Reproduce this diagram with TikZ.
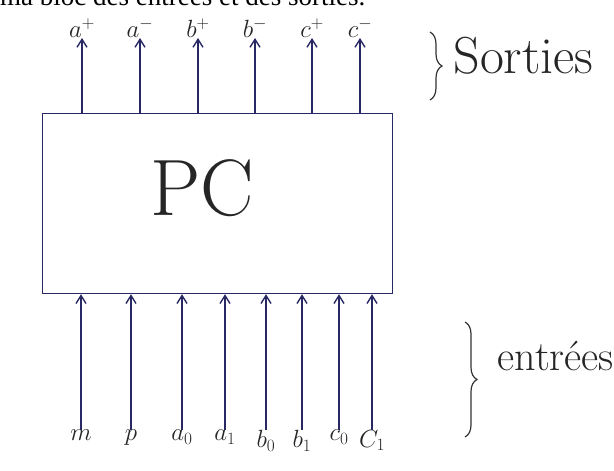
\documentclass[tikz,border=0pt]{standalone}
\usepackage{fontspec}
\newfontfamily\printfont{Liberation Serif}
\usetikzlibrary{decorations.pathreplacing,arrows.meta}
\definecolor{ink}{RGB}{40,40,100}
\begin{document}
\begin{tikzpicture}[x=1pt,y=-1pt,
  wire/.style={draw=ink, line width=1.4pt, -{Straight Barb[length=8pt,width=10pt]}},
  lab/.style={font=\fontsize{26}{26}\selectfont, text=black!85, inner sep=0pt},
  inlab/.style={lab, anchor=north},
  outlab/.style={lab, anchor=south},
  bracestyle/.style={draw=black!80, line width=1.2pt, decorate, decoration={brace, amplitude=12pt}}]
\clip (0,0) rectangle (614,471);
\fill[white] (0,0) rectangle (614,471);
\node[anchor=base west, font=\printfont\fontsize{27}{27}\selectfont, inner sep=0] (title) at (0,5.5) {ma bloc des entrées et des sorties.};
\node[draw=ink, line width=1.2pt, minimum width=350pt, minimum height=180pt, anchor=north west, inner sep=0] (pc) at (42,113) {};
\node[font=\fontsize{80}{80}\selectfont, text=black!85] (pclab) at (202,188) {PC};
% outputs
\node[outlab] (ap) at (82,38) {$a^+$};
\node[outlab] (am) at (140,38) {$a^-$};
\node[outlab] (bp) at (198,38) {$b^+$};
\node[outlab] (bm) at (255,38) {$b^-$};
\node[outlab] (cp) at (312,38) {$c^+$};
\node[outlab] (cm) at (360,38) {$c^-$};
\foreach \n in {ap,am,bp,bm,cp,cm}{
  \draw[wire] (\n.south |- pc.north) -- (\n.south);
}
% inputs
\node[inlab] (m) at (81,430) {$m$};
\node[inlab] (p) at (131,430) {$p$};
\node[inlab] (a0) at (182,430) {$a_0$};
\node[inlab] (a1) at (225,430) {$a_1$};
\node[inlab] (b0) at (266,430) {$b_0$};
\node[inlab] (b1) at (302,430) {$b_1$};
\node[inlab] (c0) at (339,430) {$c_0$};
\node[inlab] (c1) at (372,430) {$C_1$};
\foreach \n in {m,p,a0,a1,b0,b1,c0,c1}{
  \draw[wire] (\n.north) -- (\n.north |- pc.south);
}
% braces and group labels
\coordinate (bt1) at (430,32);
\coordinate (bt2) at (430,100);
\draw[bracestyle] (bt1) -- (bt2);
\node[font=\fontsize{52}{52}\selectfont, text=black!85, anchor=west] (sorties) at (450,56) {Sorties};
\coordinate (bb1) at (465,322);
\coordinate (bb2) at (465,437);
\draw[bracestyle] (bb1) -- (bb2);
\node[font=\fontsize{42}{42}\selectfont, text=black!85, anchor=west] (entrees) at (494,356) {entrées};
\end{tikzpicture}
\end{document}
